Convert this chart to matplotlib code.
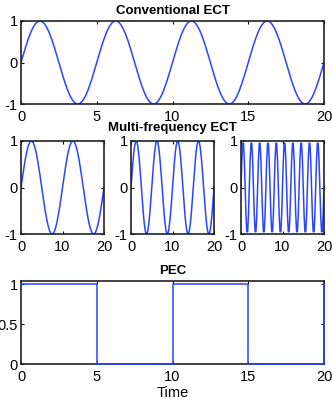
import numpy as np
import matplotlib.pyplot as plt

# signal parameters
t_end = 20
conv_period = 5
multi_periods = [10, 5, 2]
sample_step = 0.05

pec_times = [0, 5, 5, 10, 10, 15, 15, 20, 20]
pec_levels = [1, 1, 0, 0, 1, 1, 0, 0, 1]

blue = "#2b45ff"

plt.rcParams["font.family"] = ["Liberation Sans", "DejaVu Sans"]
plt.rcParams["font.size"] = 10
plt.rcParams["axes.unicode_minus"] = False


def style(ax):
    ax.tick_params(direction="in", top=True, right=True, length=2.5,
                   width=0.8, labelsize=10.5)
    ax.tick_params(axis="x", pad=4)
    ax.tick_params(axis="y", pad=2.5)
    for s in ax.spines.values():
        s.set_linewidth(1.2)
        s.set_color("#222222")


fig = plt.figure(figsize=(3.32, 4.01), dpi=100)
W, H = 332, 401


def add_ax(x0, y0, x1, y1):
    return fig.add_axes([x0 / W, 1 - y1 / H, (x1 - x0) / W, (y1 - y0) / H])


t = np.arange(0, t_end + sample_step / 2, sample_step)

ax = add_ax(21, 21, 324, 104)
ax.plot(t, np.sin(2 * np.pi * t / conv_period), color=blue, lw=1.1)
ax.set_xlim(0, 20)
ax.set_ylim(-1, 1)
ax.set_xticks([0, 5, 10, 15, 20])
ax.set_yticks([-1, 0, 1])
ax.set_title("Conventional ECT", fontsize=9.5, fontweight="bold", pad=5)
style(ax)

lefts = [(21, 104), (131, 214), (241, 324)]
for i, (p, (x0, x1)) in enumerate(zip(multi_periods, lefts)):
    ax = add_ax(x0, 141, x1, 234)
    ts = t if p > 2 else np.arange(0, t_end + 0.1, 0.2)
    ax.plot(ts, np.sin(2 * np.pi * ts / p), color=blue, lw=1.1)
    ax.set_xlim(0, 20)
    ax.set_ylim(-1, 1)
    ax.set_xticks([0, 10, 20])
    ax.set_yticks([-1, 0, 1])
    if i == 1:
        ax.set_title("Multi-frequency ECT", fontsize=9.5, fontweight="bold", pad=7)
    style(ax)

ax = add_ax(21, 281, 324, 364)
ax.plot(pec_times, pec_levels, color=blue, lw=1.1, zorder=3, clip_on=False)
ax.set_xlim(0, 20)
ax.set_ylim(0, 1.04)
ax.set_xticks([0, 5, 10, 15, 20])
ax.set_yticks([0, 0.5, 1])
ax.set_yticklabels(["0", "0.5", "1"])
ax.set_title("PEC", fontsize=9.5, fontweight="bold", pad=5)
ax.set_xlabel("Time", fontsize=10.5, labelpad=2)
style(ax)

fig.savefig("out.png", dpi=100)
